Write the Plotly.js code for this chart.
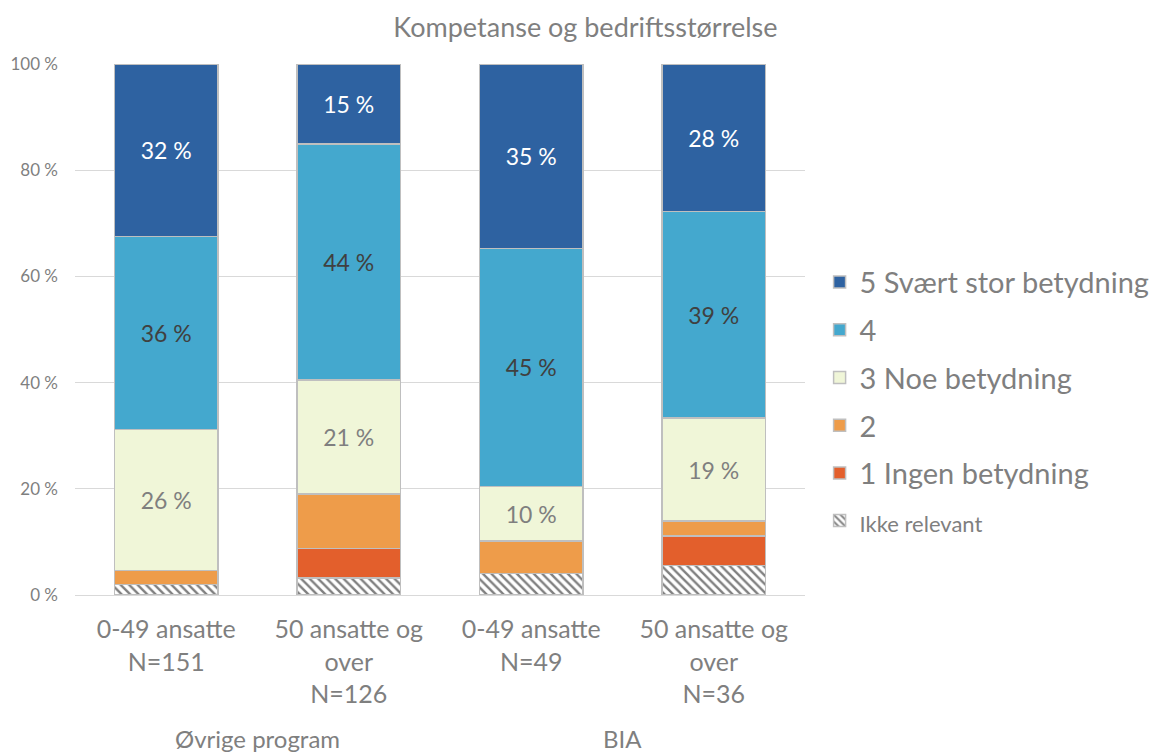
<!DOCTYPE html>
<html>
<head>
<meta charset="utf-8">
<script src="https://cdn.plot.ly/plotly-3.0.1.min.js"></script>
<style>html,body{margin:0;padding:0;background:#fff;}#chart{width:1157px;height:752px;}</style>
</head>
<body>
<div id="chart"></div>
<script>
const categories = ["0-49 ansatte<br>N=151", "50 ansatte og<br>over<br>N=126", "0-49 ansatte<br>N=49", "50 ansatte og<br>over<br>N=36"];
const groups = ["Øvrige program", "BIA"];
const seriesNames = ["Ikke relevant", "1 Ingen betydning", "2", "3 Noe betydning", "4", "5 Svært stor betydning"];
const ikkeRelevant = [1.99, 3.17, 4.08, 5.56];
const ingen1 = [0, 5.56, 0, 5.56];
const to2 = [2.65, 10.32, 6.12, 2.78];
const noe3 = [26.49, 21.43, 10.20, 19.44];
const fire4 = [36.42, 44.44, 44.90, 38.89];
const svaert5 = [32.45, 15.08, 34.69, 27.78];
const yTicks = [0, 20, 40, 60, 80, 100];

const FONT = "Lato, 'Open Sans', sans-serif";
const GRAY = "#7f7f7f";
const outline = {color: "#bfbfbf", width: 1.5};
const colors = ["#ffffff", "#e35f2c", "#ee9c4a", "#f0f6d8", "#44a8ce", "#2e62a1"];
const labelColors = [null, null, null, "#7f7f7f", "#404040", "#ffffff"];
const values = [ikkeRelevant, ingen1, to2, noe3, fire4, svaert5];
const xIdx = categories.map((c, i) => i);

const traces = values.map((v, k) => {
  const t = {
    type: "bar",
    name: k === 0 ? '<span style="font-size:22px">' + seriesNames[k] + '</span>' : seriesNames[k],
    legendgroup: "g" + k,
    legendrank: 100 - k,
    x: xIdx,
    y: v,
    marker: {color: colors[k], line: outline},
    hoverinfo: "skip"
  };
  if (k === 0) {
    t.marker.pattern = {shape: "\\", fgcolor: "#808080", bgcolor: "#ffffff", size: 6, solidity: 0.4, fillmode: "replace"};
  }
  if (labelColors[k]) {
    t.texttemplate = "%{y:.0f} %";
    t.textposition = "inside";
    t.insidetextanchor = "middle";
    t.textangle = 0;
    t.constraintext = "none";
    t.textfont = {family: FONT, size: 23, color: labelColors[k]};
  } else {
    t.textposition = "none";
  }
  return t;
});

const layout = {
  width: 1157, height: 752,
  margin: {l: 75, r: 352, t: 64, b: 157, autoexpand: false},
  paper_bgcolor: "#ffffff", plot_bgcolor: "#ffffff",
  barmode: "stack",
  bargap: 0.435,
  font: {family: FONT, color: GRAY},
  title: {text: "Kompetanse og bedriftsstørrelse", font: {family: FONT, size: 27, color: GRAY},
          xref: "container", x: 0.506, xanchor: "center", yref: "container", y: 0.964, yanchor: "middle"},
  xaxis: {
    tickmode: "array", tickvals: xIdx, ticktext: categories,
    range: [-0.5, 3.5],
    tickfont: {family: FONT, size: 25, color: GRAY},
    ticks: "outside", ticklen: 12, tickcolor: "rgba(0,0,0,0)",
    showline: false, showgrid: false, zeroline: false
  },
  yaxis: {
    range: [0, 100], tickvals: yTicks, ticktext: yTicks.map(v => v + " %"),
    tickfont: {family: FONT, size: 17, color: GRAY},
    showgrid: true, gridcolor: "#d9d9d9", gridwidth: 1,
    zeroline: true, zerolinecolor: "#d9d9d9", zerolinewidth: 1,
    showline: false, ticks: "", ticklabelstandoff: 16
  },
  legend: {
    x: 1.020, xanchor: "left", y: 0.637, yanchor: "top",
    traceorder: "grouped", tracegroupgap: 7,
    font: {family: FONT, size: 29, color: GRAY},
    bgcolor: "rgba(0,0,0,0)"
  },
  annotations: groups.map((g, i) => ({
    text: g, x: i * 2 + 0.5, xref: "x", y: -0.27, yref: "paper",
    xanchor: "center", yanchor: "middle", showarrow: false,
    font: {family: FONT, size: 24, color: GRAY}
  }))
};

Plotly.newPlot("chart", traces, layout, {displayModeBar: false, staticPlot: true});
</script>
</body>
</html>
